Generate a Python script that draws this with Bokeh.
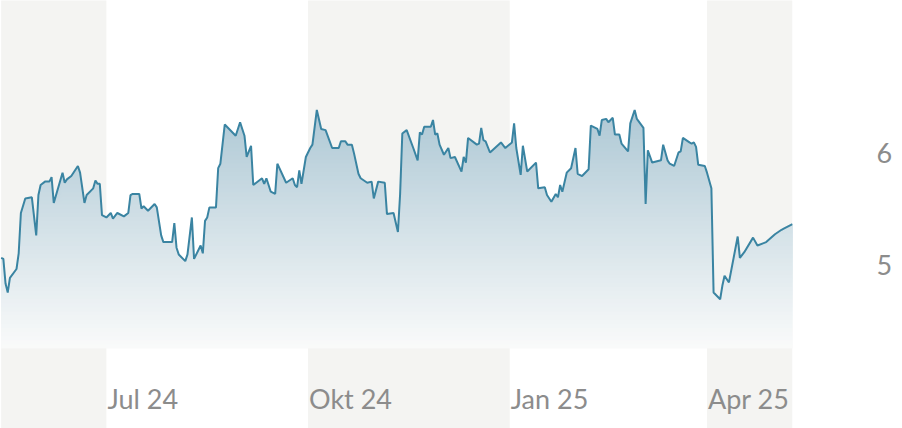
import numpy as np
import pandas as pd
from bokeh.plotting import figure
from bokeh.models import Range1d, FixedTicker, ColumnDataSource
from bokeh.core.properties import value
from bokeh.embed import file_html
from bokeh.resources import INLINE

dates = [
    "2024-05-14", "2024-05-15", "2024-05-16", "2024-05-17", "2024-05-18", "2024-05-21",
    "2024-05-22", "2024-05-23", "2024-05-25", "2024-05-28", "2024-05-30", "2024-05-31",
    "2024-06-01", "2024-06-03", "2024-06-05", "2024-06-06", "2024-06-07", "2024-06-11",
    "2024-06-12", "2024-06-13", "2024-06-15", "2024-06-18", "2024-06-19", "2024-06-21",
    "2024-06-22", "2024-06-25", "2024-06-26", "2024-06-27", "2024-06-28", "2024-06-29",
    "2024-07-01", "2024-07-03", "2024-07-04", "2024-07-06", "2024-07-09", "2024-07-11",
    "2024-07-12", "2024-07-13", "2024-07-16", "2024-07-17", "2024-07-18", "2024-07-20",
    "2024-07-23", "2024-07-24", "2024-07-26", "2024-07-27", "2024-07-31", "2024-08-01",
    "2024-08-02", "2024-08-03", "2024-08-06", "2024-08-07", "2024-08-09", "2024-08-10",
    "2024-08-13", "2024-08-14", "2024-08-15", "2024-08-16", "2024-08-17", "2024-08-20",
    "2024-08-21", "2024-08-22", "2024-08-24", "2024-08-29", "2024-08-31", "2024-09-02",
    "2024-09-03", "2024-09-05", "2024-09-06", "2024-09-10", "2024-09-11", "2024-09-12",
    "2024-09-14", "2024-09-16", "2024-09-17", "2024-09-21", "2024-09-24", "2024-09-25",
    "2024-09-26", "2024-09-27", "2024-09-28", "2024-09-30", "2024-10-02", "2024-10-03",
    "2024-10-05", "2024-10-07", "2024-10-09", "2024-10-12", "2024-10-15", "2024-10-16",
    "2024-10-18", "2024-10-19", "2024-10-21", "2024-10-22", "2024-10-24", "2024-10-25",
    "2024-10-28", "2024-10-30", "2024-10-31", "2024-11-02", "2024-11-05", "2024-11-06",
    "2024-11-09", "2024-11-11", "2024-11-12", "2024-11-13", "2024-11-15", "2024-11-18",
    "2024-11-20", "2024-11-21", "2024-11-22", "2024-11-23", "2024-11-26", "2024-11-27",
    "2024-11-28", "2024-11-29", "2024-11-30", "2024-12-02", "2024-12-04", "2024-12-05",
    "2024-12-07", "2024-12-10", "2024-12-11", "2024-12-12", "2024-12-13", "2024-12-17",
    "2024-12-18", "2024-12-19", "2024-12-20", "2024-12-21", "2024-12-23", "2024-12-28",
    "2024-12-30", "2025-01-02", "2025-01-03", "2025-01-04", "2025-01-06", "2025-01-07",
    "2025-01-09", "2025-01-13", "2025-01-14", "2025-01-17", "2025-01-18", "2025-01-20",
    "2025-01-22", "2025-01-23", "2025-01-24", "2025-01-25", "2025-01-27", "2025-01-29",
    "2025-01-31", "2025-02-01", "2025-02-03", "2025-02-06", "2025-02-07", "2025-02-10",
    "2025-02-11", "2025-02-12", "2025-02-14", "2025-02-15", "2025-02-17", "2025-02-18",
    "2025-02-20", "2025-02-21", "2025-02-24", "2025-02-25", "2025-02-27", "2025-02-28",
    "2025-03-03", "2025-03-04", "2025-03-05", "2025-03-07", "2025-03-11", "2025-03-12",
    "2025-03-14", "2025-03-15", "2025-03-17", "2025-03-19", "2025-03-20", "2025-03-21",
    "2025-03-24", "2025-03-25", "2025-03-26", "2025-03-27", "2025-03-28", "2025-03-31",
    "2025-04-01", "2025-04-03", "2025-04-04", "2025-04-07", "2025-04-08", "2025-04-09",
    "2025-04-11", "2025-04-15", "2025-04-16", "2025-04-18", "2025-04-22", "2025-04-24",
    "2025-04-28", "2025-05-02", "2025-05-05", "2025-05-06", "2025-05-10",
]

prices = [
    5.06, 5.05, 4.83, 4.75, 4.88, 4.96,
    5.10, 5.46, 5.59, 5.60, 5.26, 5.62,
    5.71, 5.74, 5.74, 5.78, 5.55, 5.82,
    5.73, 5.76, 5.79, 5.88, 5.82, 5.55,
    5.62, 5.68, 5.75, 5.72, 5.72, 5.44,
    5.42, 5.46, 5.41, 5.46, 5.43, 5.46,
    5.62, 5.63, 5.63, 5.50, 5.52, 5.48,
    5.54, 5.51, 5.26, 5.20, 5.20, 5.37,
    5.15, 5.09, 5.03, 5.09, 5.42, 5.05,
    5.17, 5.10, 5.39, 5.42, 5.51, 5.51,
    5.86, 5.90, 6.25, 6.15, 6.27, 6.15,
    5.96, 6.06, 5.71, 5.77, 5.72, 5.77,
    5.65, 5.63, 5.90, 5.73, 5.77, 5.71,
    5.69, 5.84, 5.72, 5.96, 6.04, 6.07,
    6.38, 6.21, 6.20, 6.04, 6.04, 6.10,
    6.10, 6.07, 6.07, 5.99, 5.81, 5.77,
    5.73, 5.74, 5.59, 5.74, 5.73, 5.45,
    5.46, 5.29, 5.63, 6.17, 6.20, 6.04,
    5.93, 6.18, 6.16, 6.23, 6.23, 6.29,
    6.16, 6.17, 6.07, 5.98, 6.04, 5.95,
    5.96, 5.83, 5.96, 5.91, 6.13, 6.07,
    6.08, 6.22, 6.11, 6.10, 6.00, 6.09,
    6.04, 6.09, 6.26, 6.04, 5.80, 6.06,
    5.83, 5.91, 5.68, 5.69, 5.62, 5.56,
    5.63, 5.60, 5.71, 5.65, 5.82, 5.86,
    6.04, 5.81, 5.79, 5.85, 6.24, 6.21,
    6.15, 6.29, 6.30, 6.27, 6.31, 6.16,
    6.16, 6.08, 6.01, 6.26, 6.38, 6.30,
    6.22, 5.54, 6.02, 5.91, 5.93, 6.07,
    5.93, 5.90, 5.88, 6.00, 6.01, 6.13,
    6.09, 6.08, 6.09, 6.05, 5.89, 5.88,
    5.82, 5.68, 4.75, 4.69, 4.81, 4.90,
    4.84, 5.25, 5.06, 5.11, 5.24, 5.17,
    5.20, 5.27, 5.31, 5.32, 5.36,
]

band_starts = ["2024-05-14", "2024-10-01", "2025-04-01"]
band_ends = ["2024-07-01", "2025-01-01", "2025-05-10"]

x_tick_dates = ["2024-07-01", "2024-10-01", "2025-01-01", "2025-04-01"]
x_tick_labels = ["Jul 24", "Okt 24", "Jan 25", "Apr 25"]
y_ticks = [5, 6]

LINE = "#3a84a2"
TEXT = "#8c8c8c"
BAND = "#f4f4f2"
FONT = "Lato"
GRAD_TOP_RGB = (172, 199, 212)
GRAD_BOTTOM_RGB = (249, 250, 250)

d = pd.to_datetime(dates)
price = np.array(prices)

base = 4.25
grad_top = 6.45

p = figure(
    width=902, height=428,
    x_axis_type="datetime", x_axis_location=None, y_axis_location="right",
    output_backend="svg", toolbar_location=None,
    min_border_left=0, min_border_top=0, min_border_bottom=0, min_border_right=110,
)
p.x_range = Range1d(pd.Timestamp("2024-07-01") - pd.Timedelta(days=48.3), d[-1])
p.y_range = Range1d(3.536, 7.357)

p.quad(left=pd.to_datetime(band_starts), right=pd.to_datetime(band_ends),
       bottom=3.0, top=8.0, fill_color=BAND, line_color=None)

# vertical gradient under the line: stacked, overlapping layers (bottom -> top)
N = 60
for k in range(N):
    f = k / (N - 1)
    lo = base + (grad_top - base) * k / N
    rgb = tuple(int(round(b + (t - b) * f)) for b, t in zip(GRAD_BOTTOM_RGB, GRAD_TOP_RGB))
    col = "#%02x%02x%02x" % rgb
    p.varea(x=d, y1=np.minimum(price, lo), y2=price, fill_color=col,
            fill_alpha=0.93 if k == 0 else 1.0)

p.line(d, price, line_color=LINE, line_width=2)

src = ColumnDataSource(dict(x=pd.to_datetime(x_tick_dates), y=[3.80] * len(x_tick_labels), t=x_tick_labels))
p.text(x="x", y="y", text="t", source=src, text_align="left", text_baseline="middle",
       text_font=value(FONT), text_font_size="27px", text_color=TEXT, x_offset=1)

ax = p.yaxis[0]
ax.ticker = FixedTicker(ticks=y_ticks)
ax.axis_line_color = None
ax.major_tick_line_color = None
ax.minor_tick_line_color = None
ax.major_tick_out = 0
ax.major_tick_in = 0
ax.major_label_standoff = 84
ax.major_label_text_font = FONT
ax.major_label_text_font_size = "27px"
ax.major_label_text_color = TEXT

p.grid.visible = False
p.outline_line_color = None
p.background_fill_color = "white"
p.border_fill_color = "white"

open("out.html", "w").write(file_html(p, INLINE))
